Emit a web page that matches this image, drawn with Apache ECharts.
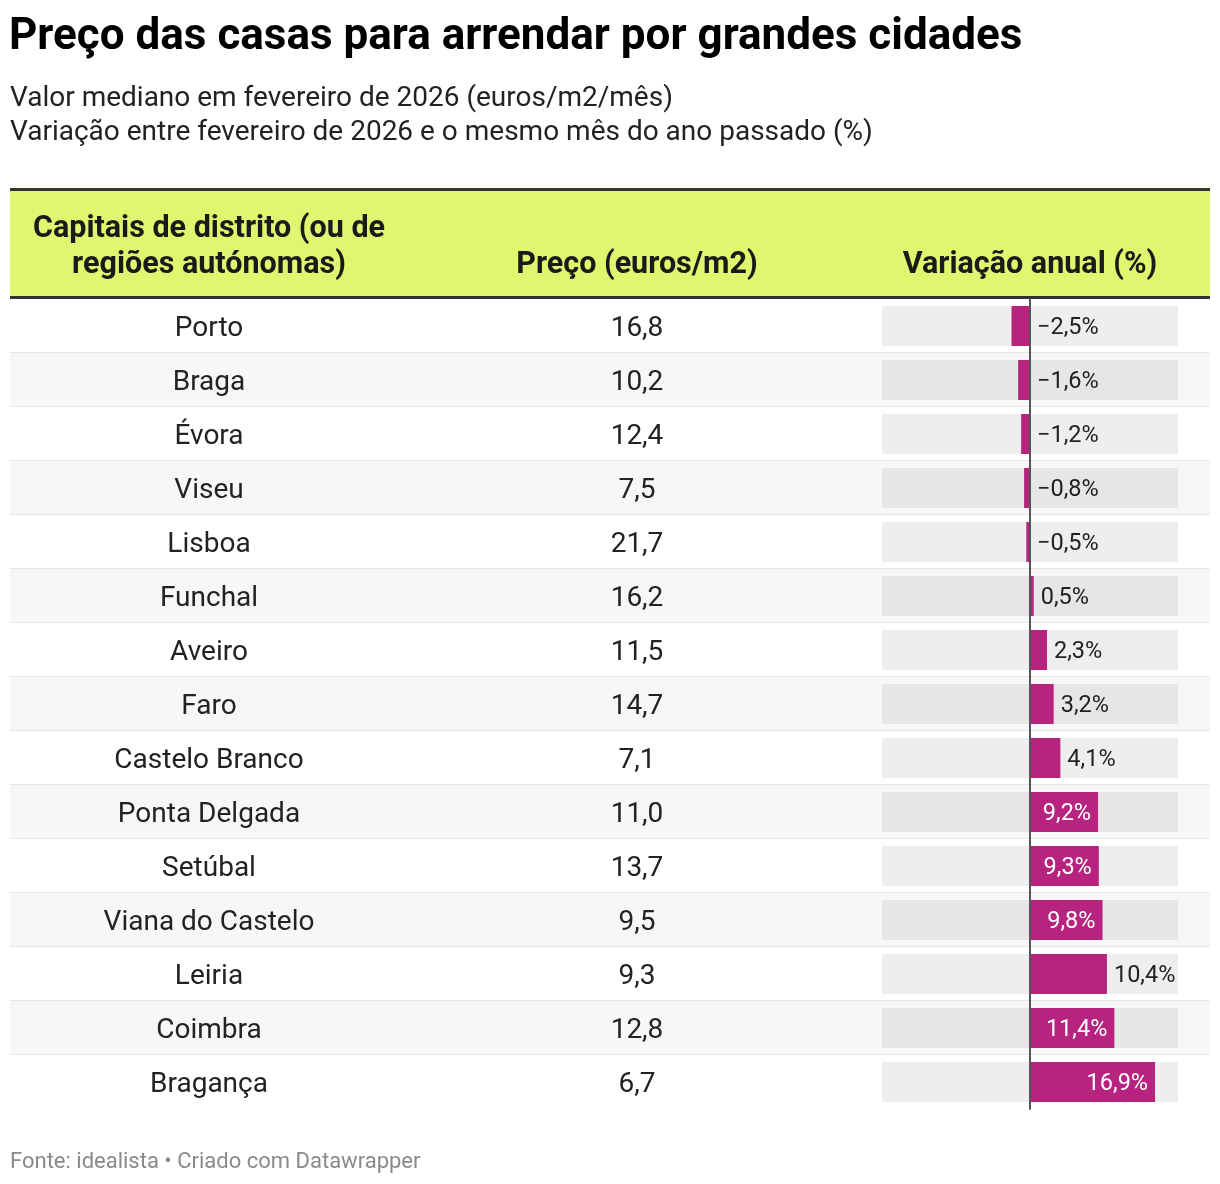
<!DOCTYPE html>
<html>
<head>
<meta charset="utf-8">
<script src="https://cdn.jsdelivr.net/npm/echarts@6/dist/echarts.min.js"></script>
<style>
  html, body { margin: 0; padding: 0; background: #fff; }
  #chart { width: 1220px; height: 1184px; }
</style>
</head>
<body>
<div id="chart"></div>
<script>
var cities = ['Porto', 'Braga', 'Évora', 'Viseu', 'Lisboa', 'Funchal', 'Aveiro', 'Faro',
  'Castelo Branco', 'Ponta Delgada', 'Setúbal', 'Viana do Castelo', 'Leiria', 'Coimbra', 'Bragança'];
var prices = [16.8, 10.2, 12.4, 7.5, 21.7, 16.2, 11.5, 14.7, 7.1, 11.0, 13.7, 9.5, 9.3, 12.8, 6.7];
var changes = [-2.5, -1.6, -1.2, -0.8, -0.5, 0.5, 2.3, 3.2, 4.1, 9.2, 9.3, 9.8, 10.4, 11.4, 16.9];

var FONT = 'Roboto, "Noto Sans", sans-serif';
var BAR_COLOR = '#b7247f';
var X_MIN = -20, X_MAX = 20;
var BAR_LEFT = 882, BAR_RIGHT = 1178;
var ROW_TOP = 299, ROW_H = 54;
var LABEL_SIZE = 23.5;

function fmt(v, pct) {
  var s = Math.abs(v).toFixed(1).replace('.', ',');
  if (v < 0) s = '\u2212' + s;
  return pct ? s + '%' : s;
}

// measure label widths to decide if the label fits inside the bar
var ctx = document.createElement('canvas').getContext('2d');
ctx.font = LABEL_SIZE + 'px ' + FONT;
var pxPerUnit = (BAR_RIGHT - BAR_LEFT) / (X_MAX - X_MIN);

var barData = changes.map(function (v) {
  var w = ctx.measureText(fmt(v, true)).width;
  var inside = v > 0 && v * pxPerUnit > w + 16;
  return {
    value: v,
    label: inside
      ? { position: 'insideRight', color: '#fff', distance: 7 }
      : { position: 'right', color: '#222', distance: 7 }
  };
});

var headStyle = function (txt) {
  return { text: txt, textAlign: 'center', textVerticalAlign: 'bottom',
    font: 'bold 30.5px ' + FONT, fill: '#1a1a1a', lineHeight: 36 };
};

var chart = echarts.init(document.getElementById('chart'));

chart.setOption({
  animation: false,
  backgroundColor: '#fff',
  title: [{
    text: 'Preço das casas para arrendar por grandes cidades',
    left: 4, top: 11,
    textStyle: { fontFamily: FONT, fontSize: 44, fontWeight: 'bold', color: '#000' }
  }, {
    text: 'Valor mediano em fevereiro de 2026 (euros/m2/mês)\nVariação entre fevereiro de 2026 e o mesmo mês do ano passado (%)',
    left: 5, top: 77,
    textStyle: { fontFamily: FONT, fontSize: 28, fontWeight: 'normal', color: '#222', lineHeight: 34 }
  }, {
    text: 'Fonte: idealista • Criado com Datawrapper',
    left: 5, top: 1146,
    textStyle: { fontFamily: FONT, fontSize: 22, fontWeight: 'normal', color: '#8a8a8a' }
  }],
  graphic: [
    { type: 'rect', shape: { x: 10, y: 188, width: 1200, height: 3 }, style: { fill: '#333' } },
    { type: 'rect', shape: { x: 10, y: 191, width: 1200, height: 105 }, style: { fill: '#e2f56e' } },
    { type: 'rect', shape: { x: 10, y: 296, width: 1200, height: 3 }, style: { fill: '#333' } },
    { type: 'text', x: 209, y: 283, style: headStyle('Capitais de distrito (ou de\nregiões autónomas)') },
    { type: 'text', x: 637, y: 283, style: headStyle('Preço (euros/m2)') },
    { type: 'text', x: 1030, y: 283, style: headStyle('Variação anual (%)') }
  ],
  grid: [
    { left: 10, right: 10, top: ROW_TOP, height: ROW_H * cities.length },
    { left: BAR_LEFT, right: 1220 - BAR_RIGHT, top: ROW_TOP, height: ROW_H * cities.length }
  ],
  xAxis: [
    { gridIndex: 0, type: 'value', min: 0, max: 1, show: false },
    { gridIndex: 1, type: 'value', min: X_MIN, max: X_MAX, show: false }
  ],
  yAxis: [
    { gridIndex: 0, type: 'category', data: cities, inverse: true, show: false },
    { gridIndex: 1, type: 'category', data: cities, inverse: true, z: 10,
      axisLine: { show: true, onZero: true, lineStyle: { color: '#555', width: 2 } },
      axisTick: { show: false }, axisLabel: { show: false } }
  ],
  series: [{
    type: 'custom',
    xAxisIndex: 0, yAxisIndex: 0,
    z: 1,
    data: cities.map(function (c, i) { return [i, c, prices[i]]; }),
    encode: { y: 0 },
    renderItem: function (params, api) {
      var i = api.value(0);
      var cy = api.coord([0, i])[1];
      var h = api.size([0, 1])[1];
      var cs = params.coordSys;
      var children = [{
        type: 'rect',
        shape: { x: cs.x, y: cy - h / 2, width: cs.width, height: h },
        style: { fill: i % 2 ? '#f7f7f7' : '#fff' }
      }, {
        type: 'text', x: 209, y: cy + 3,
        style: { text: cities[i], textAlign: 'center', textVerticalAlign: 'middle',
          font: '28px ' + FONT, fill: '#222' }
      }, {
        type: 'text', x: 637, y: cy + 3,
        style: { text: fmt(prices[i], false), textAlign: 'center', textVerticalAlign: 'middle',
          font: '28px ' + FONT, fill: '#222' }
      }];
      if (i < cities.length - 1) {
        children.push({
          type: 'rect',
          shape: { x: cs.x, y: cy + h / 2 - 1, width: cs.width, height: 2 },
          style: { fill: '#e6e6e6' }
        });
      }
      return { type: 'group', children: children };
    }
  }, {
    type: 'bar',
    xAxisIndex: 1, yAxisIndex: 1,
    z: 2,
    barWidth: 40,
    data: barData,
    itemStyle: { color: BAR_COLOR },
    showBackground: true,
    backgroundStyle: { color: 'rgba(0,0,0,0.068)' },
    label: {
      show: true,
      offset: [0, 2],
      fontFamily: FONT, fontSize: LABEL_SIZE,
      formatter: function (p) { return fmt(p.value, true); }
    }
  }]
});
</script>
</body>
</html>
